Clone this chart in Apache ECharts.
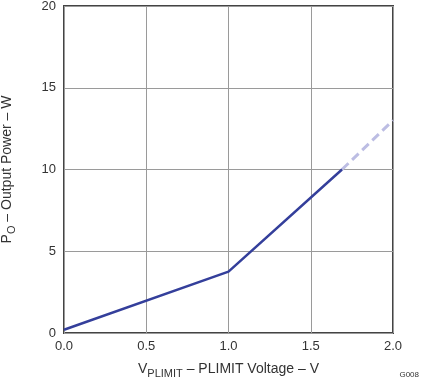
<!DOCTYPE html>
<html><head><meta charset="utf-8">
<script src="https://cdn.jsdelivr.net/npm/echarts@6/dist/echarts.min.js"></script>
<style>html,body{margin:0;padding:0;background:#fff}#c{width:421px;height:383px}</style>
</head><body><div id="c"></div>
<script>
const solidVoltage = [0, 1.0, 1.69];
const solidPower = [0.2, 3.75, 10.0];
const dashVoltage = [1.69, 2.0];
const dashPower = [10.0, 13.0];
const xTicks = [0, 0.5, 1.0, 1.5, 2.0];
const yTicks = [0, 5, 10, 15, 20];

const chart = echarts.init(document.getElementById('c'), null, {renderer: 'canvas'});
const font = 'Liberation Sans, Arial, sans-serif';
chart.setOption({
  animation: false,
  grid: {left: 64, right: 28, top: 6, bottom: 50, show: true, borderColor: '#444', borderWidth: 2, backgroundColor: 'transparent', outerBoundsMode: 'none', containLabel: false},
  xAxis: {
    type: 'value', min: xTicks[0], max: xTicks[xTicks.length-1], interval: 0.5,
    axisLine: {show: false}, axisTick: {show: false},
    splitLine: {show: true, lineStyle: {color: '#9a9a9a', width: 1}},
    axisLabel: {color: '#333', fontFamily: font, fontSize: 13, margin: 7, formatter: v => v.toFixed(1)},
    name: '{a|V}{s|PLIMIT}{a| – PLIMIT Voltage – V}', nameLocation: 'middle', nameGap: 27,
    nameTextStyle: {rich: {a: {fontFamily: font, fontSize: 14, color: '#333'}, s: {fontFamily: font, fontSize: 11, color: '#333', padding: [8, 0, 0, 0]}}}
  },
  yAxis: {
    type: 'value', min: yTicks[0], max: yTicks[yTicks.length-1], interval: 5,
    axisLine: {show: false}, axisTick: {show: false},
    splitLine: {show: true, lineStyle: {color: '#9a9a9a', width: 1}},
    axisLabel: {color: '#333', fontFamily: font, fontSize: 13, margin: 8},
    name: '{a|P}{s|O}{a| – Output Power – W}', nameLocation: 'middle', nameGap: 47,
    nameTextStyle: {rich: {a: {fontFamily: font, fontSize: 14, color: '#333'}, s: {fontFamily: font, fontSize: 11, color: '#333', padding: [8, 0, 0, 0]}}}
  },
  series: [
    {type: 'line', data: solidVoltage.map((v, i) => [v, solidPower[i]]), symbol: 'none',
     lineStyle: {color: '#343f9b', width: 2.5}, z: 3},
    {type: 'line', data: dashVoltage.map((v, i) => [v, dashPower[i]]), symbol: 'none',
     lineStyle: {color: '#bcbde3', width: 3, type: [9, 5]}, z: 2}
  ],
  graphic: [{type: 'text', right: 2, bottom: 4, style: {text: 'G008', fontFamily: font, fontSize: 8, fill: '#333'}}]
});
</script></body></html>
